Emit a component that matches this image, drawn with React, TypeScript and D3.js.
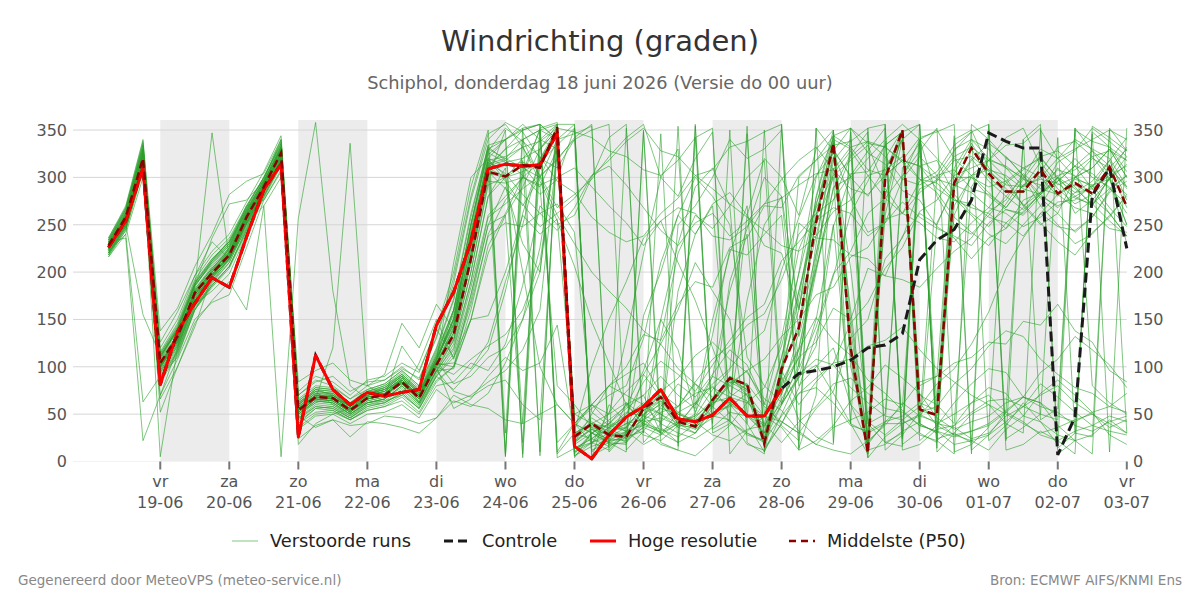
import React, { useEffect, useRef } from 'react';
import * as d3 from 'd3';

// 6-hourly steps starting thursday 18-06 06:00
const runStart = new Date(2026, 5, 18, 6);
const stepHours = 6;

// Hoge resolutie (runs until 28-06 00:00)
const hres = [
  226, 254, 310, 81, 137, 167, 194, 184, 237, 287,
  314, 26, 112, 76, 60, 73, 69, 73, 76, 144,
  179, 232, 309, 314, 312, 313, 347, 16, 3, 28,
  47, 58, 76, 45, 42, 49, 67, 48, 48, 77,
];

// Controle
const control = [
  226, 254, 310, 81, 137, 167, 194, 184, 237, 287,
  314, 26, 112, 76, 60, 73, 69, 73, 76, 144,
  179, 232, 309, 314, 312, 313, 347, 16, 3, 28,
  47, 58, 76, 45, 42, 49, 67, 48, 48, 77,
  93, 96, 100, 107, 120, 123, 135, 213, 234, 245,
  276, 347, 338, 331, 331, 7, 47, 281, 310, 225,
];

// Middelste (P50)
const p50 = [
  228, 258, 320, 104, 132, 178, 199, 218, 258, 290,
  326, 54, 68, 67, 54, 67, 70, 84, 67, 102,
  134, 214, 306, 301, 313, 310, 353, 26, 40, 28,
  26, 56, 68, 42, 37, 65, 88, 81, 19, 98,
  141, 253, 336, 120, 9, 299, 350, 55, 49, 294,
  331, 304, 285, 285, 308, 283, 294, 283, 311, 269,
];

// Verstoorde runs, one string per member
const members = [
  '224 252 316 96 124 170 190 214 250 286 / 318 48 62 70 58 72 76 90 62 96 / 98 150 228 262 300 352 358 8 30 44 / 58 96 150 118 52 90 180 240 30 84 / 120 210 318 340 20 40 310 336 60 40 / 290 318 300 270 284 300 262 276 298 250',
  '230 262 328 110 140 186 236 272 276 296 / 332 62 74 60 50 62 66 78 60 90 / 76 96 118 180 262 318 348 40 56 70 / 80 130 210 260 300 280 250 110 80 62 / 88 122 248 302 328 352 18 32 252 288 / 318 336 322 302 278 262 242 258 286 302',
  '220 248 310 88 116 164 186 206 244 280 / 314 40 56 58 48 60 64 70 56 86 / 100 160 240 276 300 290 330 10 20 36 / 52 48 30 354 34 46 60 40 350 70 / 136 260 344 110 4 26 40 48 70 260 / 302 318 342 352 312 288 272 282 298 322',
  '232 264 334 116 146 192 218 236 270 300 / 338 66 80 78 66 76 82 96 80 120 / 172 262 332 318 302 282 298 352 18 52 / 74 92 68 52 62 82 98 122 138 202 / 258 302 326 278 242 252 298 322 302 278 / 260 240 230 250 270 300 320 300 290 262',
  '226 256 324 100 126 182 204 224 262 294 / 330 56 70 68 56 70 72 86 70 108 / 150 240 320 340 352 356 340 4 30 20 / 28 42 46 38 36 52 58 72 48 36 / 12 352 20 348 4 338 26 356 14 344 / 8 350 22 340 356 14 30 346 10 352',
  '218 244 306 70 108 150 168 176 226 276 / 306 36 50 52 44 54 58 64 50 80 / 84 104 96 124 186 270 250 260 300 342 / 356 20 40 30 24 36 52 48 30 66 / 98 142 198 222 262 278 302 328 352 10 / 18 36 322 302 282 296 312 328 302 332',
  '228 260 322 108 134 176 202 226 264 298 / 340 70 84 90 74 84 86 98 88 130 / 188 276 340 358 348 320 310 340 350 356 / 12 32 58 82 68 92 118 102 62 38 / 22 352 328 302 18 42 58 312 318 282 / 262 248 272 298 322 328 312 288 262 238',
  '234 266 330 112 138 184 212 234 268 300 / 334 60 72 66 60 74 80 92 76 104 / 140 250 334 8 352 6 344 14 20 12 / 30 92 124 160 210 180 150 40 10 90 / 180 250 300 40 8 270 350 70 60 340 / 350 310 296 270 250 262 300 320 310 290',
  '222 250 312 92 120 166 192 212 252 284 / 320 50 64 62 50 64 68 122 96 140 / 110 150 154 200 260 240 256 50 60 42 / 34 154 200 260 240 272 284 260 228 220 / 160 280 350 100 30 40 40 50 40 36 / 24 30 48 58 70 80 62 50 36 44',
  '236 270 340 120 150 196 222 240 274 306 / 344 74 90 84 70 86 90 104 94 140 / 200 290 350 5 340 350 10 40 30 40 / 60 70 30 40 60 90 80 96 60 130 / 224 268 302 318 334 288 262 252 236 232 / 252 268 294 308 322 298 284 296 318 342',
  '226 254 318 104 132 178 198 216 256 292 / 326 54 66 64 52 68 70 84 66 104 / 136 214 304 300 312 290 80 60 36 30 / 40 44 30 20 30 56 190 246 300 280 / 100 230 336 140 10 300 340 40 30 290 / 320 296 280 266 282 310 290 270 300 230',
  '216 240 300 66 100 146 170 190 160 270 / 300 34 48 50 40 50 52 60 46 76 / 62 70 84 96 118 160 330 50 40 36 / 24 36 28 40 50 134 224 218 240 260 / 80 100 120 60 40 20 30 340 350 320 / 302 284 268 292 306 332 338 322 298 282',
  '230 260 326 126 158 196 232 214 246 292 / 326 56 68 70 58 70 76 86 70 106 / 150 232 324 340 356 340 330 20 50 80 / 92 104 72 58 84 108 122 144 156 192 / 240 262 276 304 306 334 348 356 22 38 / 62 78 72 48 42 28 22 348 332 306',
  '224 258 320 100 128 174 196 218 258 290 / 324 50 62 60 48 62 64 76 60 94 / 124 190 280 310 40 330 350 36 60 50 / 130 220 300 330 60 80 50 30 20 100 / 140 220 310 160 20 280 346 80 90 330 / 340 320 310 290 300 280 300 310 330 300',
  '228 262 326 110 140 188 214 232 264 294 / 330 58 72 72 58 70 74 88 72 110 / 150 240 316 304 282 262 244 268 302 312 / 292 268 244 228 252 262 238 254 272 298 / 318 332 308 288 282 302 318 312 288 276 / 272 258 252 238 262 282 298 292 268 248',
  '220 250 314 94 122 168 194 214 252 286 / 318 46 58 56 46 60 62 72 56 90 / 110 170 250 260 20 350 8 30 24 16 / 352 30 346 16 354 40 350 20 8 356 / 14 70 348 40 30 356 24 336 40 50 / 62 70 52 340 44 56 352 80 62 50',
  '232 266 336 114 144 190 214 232 268 300 / 336 64 78 76 62 74 80 94 78 116 / 160 250 330 320 310 300 320 340 10 30 / 20 40 150 230 290 310 270 50 40 110 / 200 300 340 330 40 50 300 340 280 250 / 240 260 280 300 270 250 230 240 260 280',
  '226 256 322 98 130 180 200 222 260 290 / 324 52 66 66 54 68 72 82 68 102 / 104 98 126 190 250 320 352 28 46 34 / 50 84 106 92 74 102 128 152 166 212 / 232 254 268 262 238 252 274 258 246 238 / 228 252 266 262 284 296 312 304 288 272',
  '224 252 318 102 130 176 200 220 258 288 / 322 54 70 68 56 66 70 84 66 100 / 130 210 300 350 8 356 340 30 40 20 / 10 350 36 20 356 30 40 346 10 50 / 90 102 72 40 352 20 16 340 24 30 / 20 356 24 36 50 342 30 26 350 30',
  '230 258 324 104 130 178 202 220 260 292 / 326 56 68 66 52 66 70 84 66 102 / 160 232 318 302 314 312 354 24 38 26 / 26 56 68 42 36 66 88 80 18 98 / 144 254 336 118 8 298 348 54 48 292 / 330 300 284 284 306 282 292 282 310 268',
  '218 246 312 84 112 160 184 204 242 278 / 312 24 38 44 26 42 40 36 30 46 / 64 58 72 104 150 226 340 346 354 10 / 30 40 34 26 40 66 90 70 40 20 / 42 58 82 88 72 56 52 38 32 26 / 32 40 54 68 94 108 132 118 102 78',
  '236 268 338 138 162 206 240 282 296 304 / 340 70 86 80 66 80 86 100 86 132 / 194 280 346 356 332 296 254 206 148 104 / 60 40 30 250 270 300 340 320 330 350 / 132 204 288 324 348 12 28 52 58 82 / 98 122 138 132 108 92 78 72 58 52',
  '222 250 316 96 124 172 194 214 254 286 / 320 50 64 62 50 62 66 80 62 96 / 128 200 292 300 306 316 348 32 100 150 / 190 236 254 210 170 120 72 64 36 80 / 110 200 290 300 320 340 356 340 320 300 / 300 290 296 310 320 300 280 290 310 330',
  '228 256 320 100 128 176 198 218 256 290 / 326 84 96 104 86 80 92 146 120 166 / 140 220 310 300 200 100 60 40 20 30 / 40 50 60 40 30 50 60 170 250 280 / 162 238 322 204 42 28 44 58 82 98 / 124 158 204 236 262 248 244 258 284 296',
  '226 254 320 102 132 180 204 222 260 292 / 328 56 70 70 58 72 76 90 72 108 / 146 226 312 330 350 356 4 14 24 40 / 56 70 90 70 56 150 220 270 50 110 / 180 260 330 300 280 310 340 356 10 30 / 50 60 40 30 350 320 300 310 330 300',
  '220 248 310 90 118 164 188 210 248 282 / 316 46 60 58 46 58 62 74 58 92 / 118 184 260 280 300 316 334 352 12 20 / 18 348 20 12 342 34 44 354 14 40 / 72 88 104 108 122 128 142 118 98 84 / 70 60 50 40 30 36 44 50 40 30',
  '232 264 330 110 140 166 180 198 240 296 / 332 60 74 72 60 72 78 90 74 112 / 160 250 326 316 320 330 356 6 20 26 / 36 58 50 40 48 76 96 260 320 300 / 260 330 350 150 20 320 350 30 20 310 / 340 330 310 300 330 320 340 330 320 290',
  '224 254 318 100 128 174 196 216 256 288 / 322 52 66 64 52 64 68 82 64 98 / 128 200 296 294 300 292 300 310 290 270 / 252 228 254 268 262 238 234 248 272 278 / 292 304 308 332 338 322 298 292 302 308 / 288 282 268 292 298 294 278 272 288 302',
  '230 258 324 104 132 180 200 220 262 294 / 330 58 70 66 54 68 72 86 70 106 / 82 90 110 120 150 200 350 20 34 22 / 24 46 62 36 30 60 80 70 16 90 / 44 26 18 352 336 332 316 298 294 276 / 268 262 246 264 282 300 288 272 254 238',
  '216 244 308 52 100 142 196 226 270 276 / 308 40 52 54 44 54 58 68 52 84 / 100 150 220 260 290 330 350 40 60 80 / 70 60 40 180 240 270 60 50 30 60 / 92 108 102 78 62 48 44 28 22 8 / 356 340 320 310 300 320 330 340 350 340',
  '222 240 63 90 110 160 190 210 250 282 / 318 50 64 62 50 62 66 80 62 96 / 120 190 280 300 320 340 356 356 4 60 / 42 28 22 38 62 48 44 18 12 40 / 78 134 196 262 296 334 348 22 38 62 / 82 98 94 68 62 48 42 52 58 72',
  '232 236 22 70 120 170 200 220 256 286 / 320 60 76 70 56 70 74 86 70 106 / 152 244 328 352 338 322 296 284 258 242 / 232 238 262 278 302 288 272 258 244 228 / 222 238 264 276 302 308 322 298 284 258 / 242 228 252 268 292 308 302 278 262 238',
  '226 250 155 112 140 186 210 228 264 296 / 332 62 76 74 60 72 78 92 74 110 / 150 236 318 322 332 338 352 348 342 328 / 322 308 302 318 342 352 8 32 48 82 / 118 152 128 112 86 72 54 38 32 18 / 22 28 42 58 82 68 52 38 32 28',
  '224 252 316 5 120 168 194 214 252 270 / 5 257 358 180 80 66 70 82 66 100 / 92 108 122 134 160 210 340 30 40 50 / 62 48 42 58 82 68 62 48 38 62 / 102 218 304 328 302 278 262 284 298 322 / 332 318 312 298 292 302 308 322 328 318',
  '228 258 320 100 136 184 347 214 252 288 / 322 52 66 120 336 80 70 86 70 104 / 142 218 312 318 332 302 268 282 298 322 / 342 356 300 280 320 348 42 28 22 48 / 72 78 62 38 32 42 48 62 38 28 / 32 38 52 42 28 22 32 38 48 42',
  '220 246 312 86 114 160 186 206 244 280 / 314 42 56 54 44 56 60 70 104 150 / 108 166 238 252 248 262 272 242 52 38 / 32 18 28 52 42 28 22 34 38 72 / 110 126 162 150 204 196 238 262 250 292 / 302 308 288 272 252 232 218 242 258 282',
  '234 268 334 114 142 188 212 232 270 300 / 336 64 78 76 62 76 82 96 80 118 / 170 258 334 340 4 320 346 14 24 36 / 48 62 50 36 46 66 84 74 22 92 / 172 278 344 332 308 302 318 342 348 356 / 12 28 52 68 62 38 22 8 352 328',
  '226 256 322 102 128 174 196 216 256 290 / 324 54 68 66 54 66 70 84 68 104 / 136 214 306 288 272 248 262 278 302 318 / 338 352 328 322 302 308 332 338 348 356 / 12 22 38 64 78 102 88 72 46 34 / 42 48 62 68 58 52 38 32 42 48',
  '228 260 324 106 134 182 206 226 262 294 / 330 58 72 70 58 70 74 88 72 108 / 144 226 316 30 318 10 352 20 36 18 / 20 50 64 40 34 62 86 76 20 94 / 300 318 334 338 352 356 12 18 34 38 / 52 64 66 58 50 44 350 338 332 318',
  '222 252 316 98 126 172 196 216 254 286 / 320 18 40 50 56 62 66 80 62 96 / 74 68 80 86 60 44 330 10 30 40 / 32 38 52 58 72 78 68 62 48 42 / 30 56 74 130 150 214 236 288 296 318 / 322 308 302 288 282 268 284 288 302 312',
  '230 262 328 108 138 186 210 230 266 296 / 332 60 74 72 58 72 76 90 74 112 / 156 240 320 296 270 300 340 356 6 16 / 26 32 18 12 6 22 38 62 78 122 / 198 272 328 352 12 18 32 42 302 328 / 348 22 38 62 42 18 352 328 312 288',
  '218 248 310 88 116 162 186 206 246 280 / 314 44 58 56 46 58 62 72 56 90 / 114 176 258 272 288 302 318 342 356 14 / 32 48 74 88 112 126 108 94 66 54 / 32 18 12 8 22 38 62 48 42 28 / 22 12 34 48 72 86 70 52 28 18',
  '232 262 330 110 138 186 208 228 266 296 / 330 56 70 68 56 68 72 86 70 106 / 210 300 320 312 316 310 354 22 34 28 / 28 54 64 44 38 58 84 82 26 102 / 160 270 338 126 12 306 350 62 54 304 / 336 306 292 290 316 292 300 290 318 276',
  '224 254 320 100 128 176 200 220 258 290 / 326 54 68 66 54 66 70 84 68 102 / 140 220 310 330 340 300 260 230 200 180 / 162 138 124 98 82 58 42 30 22 60 / 118 204 276 322 338 332 318 312 298 292 / 284 268 262 248 258 274 276 292 298 314',
  '228 256 322 100 132 178 202 222 260 290 / 326 54 68 66 54 68 72 86 68 104 / 100 176 250 290 230 200 352 28 42 30 / 30 54 66 46 40 64 90 80 20 96 / 60 84 104 146 168 204 226 264 276 302 / 310 318 334 336 352 8 22 28 44 30',
  '220 250 314 94 122 170 194 214 252 284 / 318 48 36 44 38 40 48 46 40 46 / 70 60 56 44 40 50 60 40 30 20 / 62 38 32 42 48 62 68 82 58 42 / 30 18 36 44 52 66 60 84 90 104 / 110 126 124 148 144 166 138 126 96 84',
  '234 266 332 112 142 188 212 230 266 298 / 334 62 76 74 60 74 78 92 76 114 / 160 250 330 340 350 356 20 40 60 80 / 100 134 128 166 190 184 226 236 270 268 / 302 318 344 352 326 314 286 276 248 236 / 214 236 246 276 284 316 328 352 338 322',
  '226 254 320 102 130 176 198 218 258 290 / 324 52 66 64 52 66 70 84 66 102 / 134 210 304 6 306 350 340 18 30 24 / 22 36 130 220 260 246 270 300 318 60 / 90 150 250 60 20 260 340 40 30 270 / 300 280 266 260 280 270 280 270 300 250',
  '230 260 324 104 134 180 204 224 262 294 / 328 56 70 68 56 70 74 88 72 108 / 146 228 314 320 340 350 356 6 16 22 / 32 44 56 50 44 60 82 96 108 132 / 150 176 184 216 226 256 262 296 306 334 / 348 356 12 18 32 22 8 354 342 328',
  '224 252 318 100 126 174 196 216 254 288 / 322 52 66 64 52 66 70 84 66 100 / 56 66 90 110 96 104 144 26 40 32 / 36 58 70 50 42 62 88 76 22 88 / 252 236 234 218 214 196 192 184 204 222 / 236 264 276 304 288 282 268 262 246 242',
];

const dayNames = ['vr', 'za', 'zo', 'ma', 'di', 'wo', 'do', 'vr', 'za', 'zo', 'ma', 'di', 'wo', 'do', 'vr'];
const dayDates = ['19-06', '20-06', '21-06', '22-06', '23-06', '24-06', '25-06', '26-06', '27-06', '28-06', '29-06', '30-06', '01-07', '02-07', '03-07'];
const yTicks = [0, 50, 100, 150, 200, 250, 300, 350];

const FONT = 'DejaVu Sans, Verdana, sans-serif';

const WindChart = () => {
  const ref = useRef<SVGSVGElement>(null);

  useEffect(() => {
    const svg = d3.select(ref.current);
    svg.selectAll('*').remove();

    const left = 73, right = 1126.8, top = 120, bottom = 461.5;

    const x = d3.scaleTime()
      .domain([new Date(2026, 5, 17, 17, 40), new Date(2026, 6, 3, 0)])
      .range([left, right]);
    const y = d3.scaleLinear().domain([0, 360.6]).range([bottom, top]);

    const timeAt = (i: number) => d3.timeHour.offset(runStart, i * stepHours);
    const line = d3.line<number>()
      .x((d, i) => x(timeAt(i)))
      .y(d => y(d));

    const days = dayDates.map((_, i) => new Date(2026, 5, 19 + i));

    // shaded alternate days
    svg.append('g')
      .selectAll('rect')
      .data(days.filter((_, i) => i % 2 === 0 && i < days.length - 1))
      .join('rect')
      .attr('x', d => x(d))
      .attr('y', top)
      .attr('width', d => x(d3.timeDay.offset(d, 1)) - x(d))
      .attr('height', bottom - top)
      .attr('fill', '#ececec');

    // horizontal grid
    svg.append('g')
      .selectAll('line')
      .data(yTicks)
      .join('line')
      .attr('x1', left)
      .attr('x2', right)
      .attr('y1', d => y(d))
      .attr('y2', d => y(d))
      .attr('stroke', d => (d === 0 ? '#f2f2f2' : '#d6d6d6'))
      .attr('stroke-width', 1);

    // perturbed members
    const runs = members.map(s => (s.match(/\d+/g) || []).map(Number));
    svg.append('g')
      .attr('fill', 'none')
      .attr('stroke', '#2ca02c')
      .attr('stroke-opacity', 0.6)
      .attr('stroke-width', 1)
      .selectAll('path')
      .data(runs)
      .join('path')
      .attr('d', d => line(d));

    svg.append('path')
      .attr('d', line(control))
      .attr('fill', 'none')
      .attr('stroke', '#1a1a1a')
      .attr('stroke-width', 3)
      .attr('stroke-dasharray', '10,5');

    svg.append('path')
      .attr('d', line(hres))
      .attr('fill', 'none')
      .attr('stroke', '#ff0000')
      .attr('stroke-width', 3)
      .attr('stroke-linejoin', 'round');

    svg.append('path')
      .attr('d', line(p50))
      .attr('fill', 'none')
      .attr('stroke', '#8b0000')
      .attr('stroke-width', 2.5)
      .attr('stroke-dasharray', '8,4');

    // x axis ticks and labels
    const xt = svg.append('g');
    days.forEach((d, i) => {
      const px = x(d);
      xt.append('line')
        .attr('x1', px).attr('x2', px)
        .attr('y1', bottom).attr('y2', bottom + 8)
        .attr('stroke', '#777').attr('stroke-width', 2);
      xt.append('text')
        .attr('x', px).attr('y', 487)
        .attr('text-anchor', 'middle')
        .text(dayNames[i]);
      xt.append('text')
        .attr('x', px).attr('y', 508)
        .attr('text-anchor', 'middle')
        .text(dayDates[i]);
    });
    xt.attr('font-family', FONT).attr('font-size', 16).attr('fill', '#555');

    // y labels on both sides
    const yt = svg.append('g').attr('font-family', FONT).attr('font-size', 16).attr('fill', '#555');
    yTicks.forEach(t => {
      yt.append('text').attr('x', 67).attr('y', y(t) + 5.8).attr('text-anchor', 'end').text(t);
      yt.append('text').attr('x', 1133).attr('y', y(t) + 5.8).attr('text-anchor', 'start').text(t);
    });

    svg.append('text')
      .attr('x', 600).attr('y', 51)
      .attr('text-anchor', 'middle')
      .attr('font-family', FONT).attr('font-size', 29).attr('fill', '#333')
      .text('Windrichting (graden)');

    svg.append('text')
      .attr('x', 600).attr('y', 89)
      .attr('text-anchor', 'middle')
      .attr('font-family', FONT).attr('font-size', 17.8).attr('fill', '#666')
      .text('Schiphol, donderdag 18 juni 2026 (Versie do 00 uur)');

    // legend
    const legendItems = [
      { label: 'Verstoorde runs', x: 232, color: '#2ca02c', width: 1, dash: null, opacity: 0.6 },
      { label: 'Controle', x: 444, color: '#1a1a1a', width: 3, dash: '9,5', opacity: 1 },
      { label: 'Hoge resolutie', x: 590, color: '#ff0000', width: 3, dash: null, opacity: 1 },
      { label: 'Middelste (P50)', x: 789, color: '#8b0000', width: 2.5, dash: '7,5', opacity: 1 },
    ];
    const lg = svg.append('g');
    legendItems.forEach(it => {
      lg.append('line')
        .attr('x1', it.x).attr('x2', it.x + 26)
        .attr('y1', 541).attr('y2', 541)
        .attr('stroke', it.color)
        .attr('stroke-width', it.width)
        .attr('stroke-opacity', it.opacity)
        .attr('stroke-dasharray', it.dash);
      lg.append('text')
        .attr('x', it.x + 38).attr('y', 547)
        .attr('font-family', FONT).attr('font-size', 17.8).attr('fill', '#222')
        .text(it.label);
    });

    svg.append('text')
      .attr('x', 18).attr('y', 585)
      .attr('font-family', FONT).attr('font-size', 13.5).attr('fill', '#888')
      .text('Gegenereerd door MeteoVPS (meteo-service.nl)');
    svg.append('text')
      .attr('x', 1182).attr('y', 585)
      .attr('text-anchor', 'end')
      .attr('font-family', FONT).attr('font-size', 13.5).attr('fill', '#888')
      .text('Bron: ECMWF AIFS/KNMI Ens');
  }, []);

  return <svg ref={ref} width={1200} height={600} style={{ position: 'absolute', left: 0, top: 0, background: '#fff' }} />;
};

export default function App() {
  return <WindChart />;
}
